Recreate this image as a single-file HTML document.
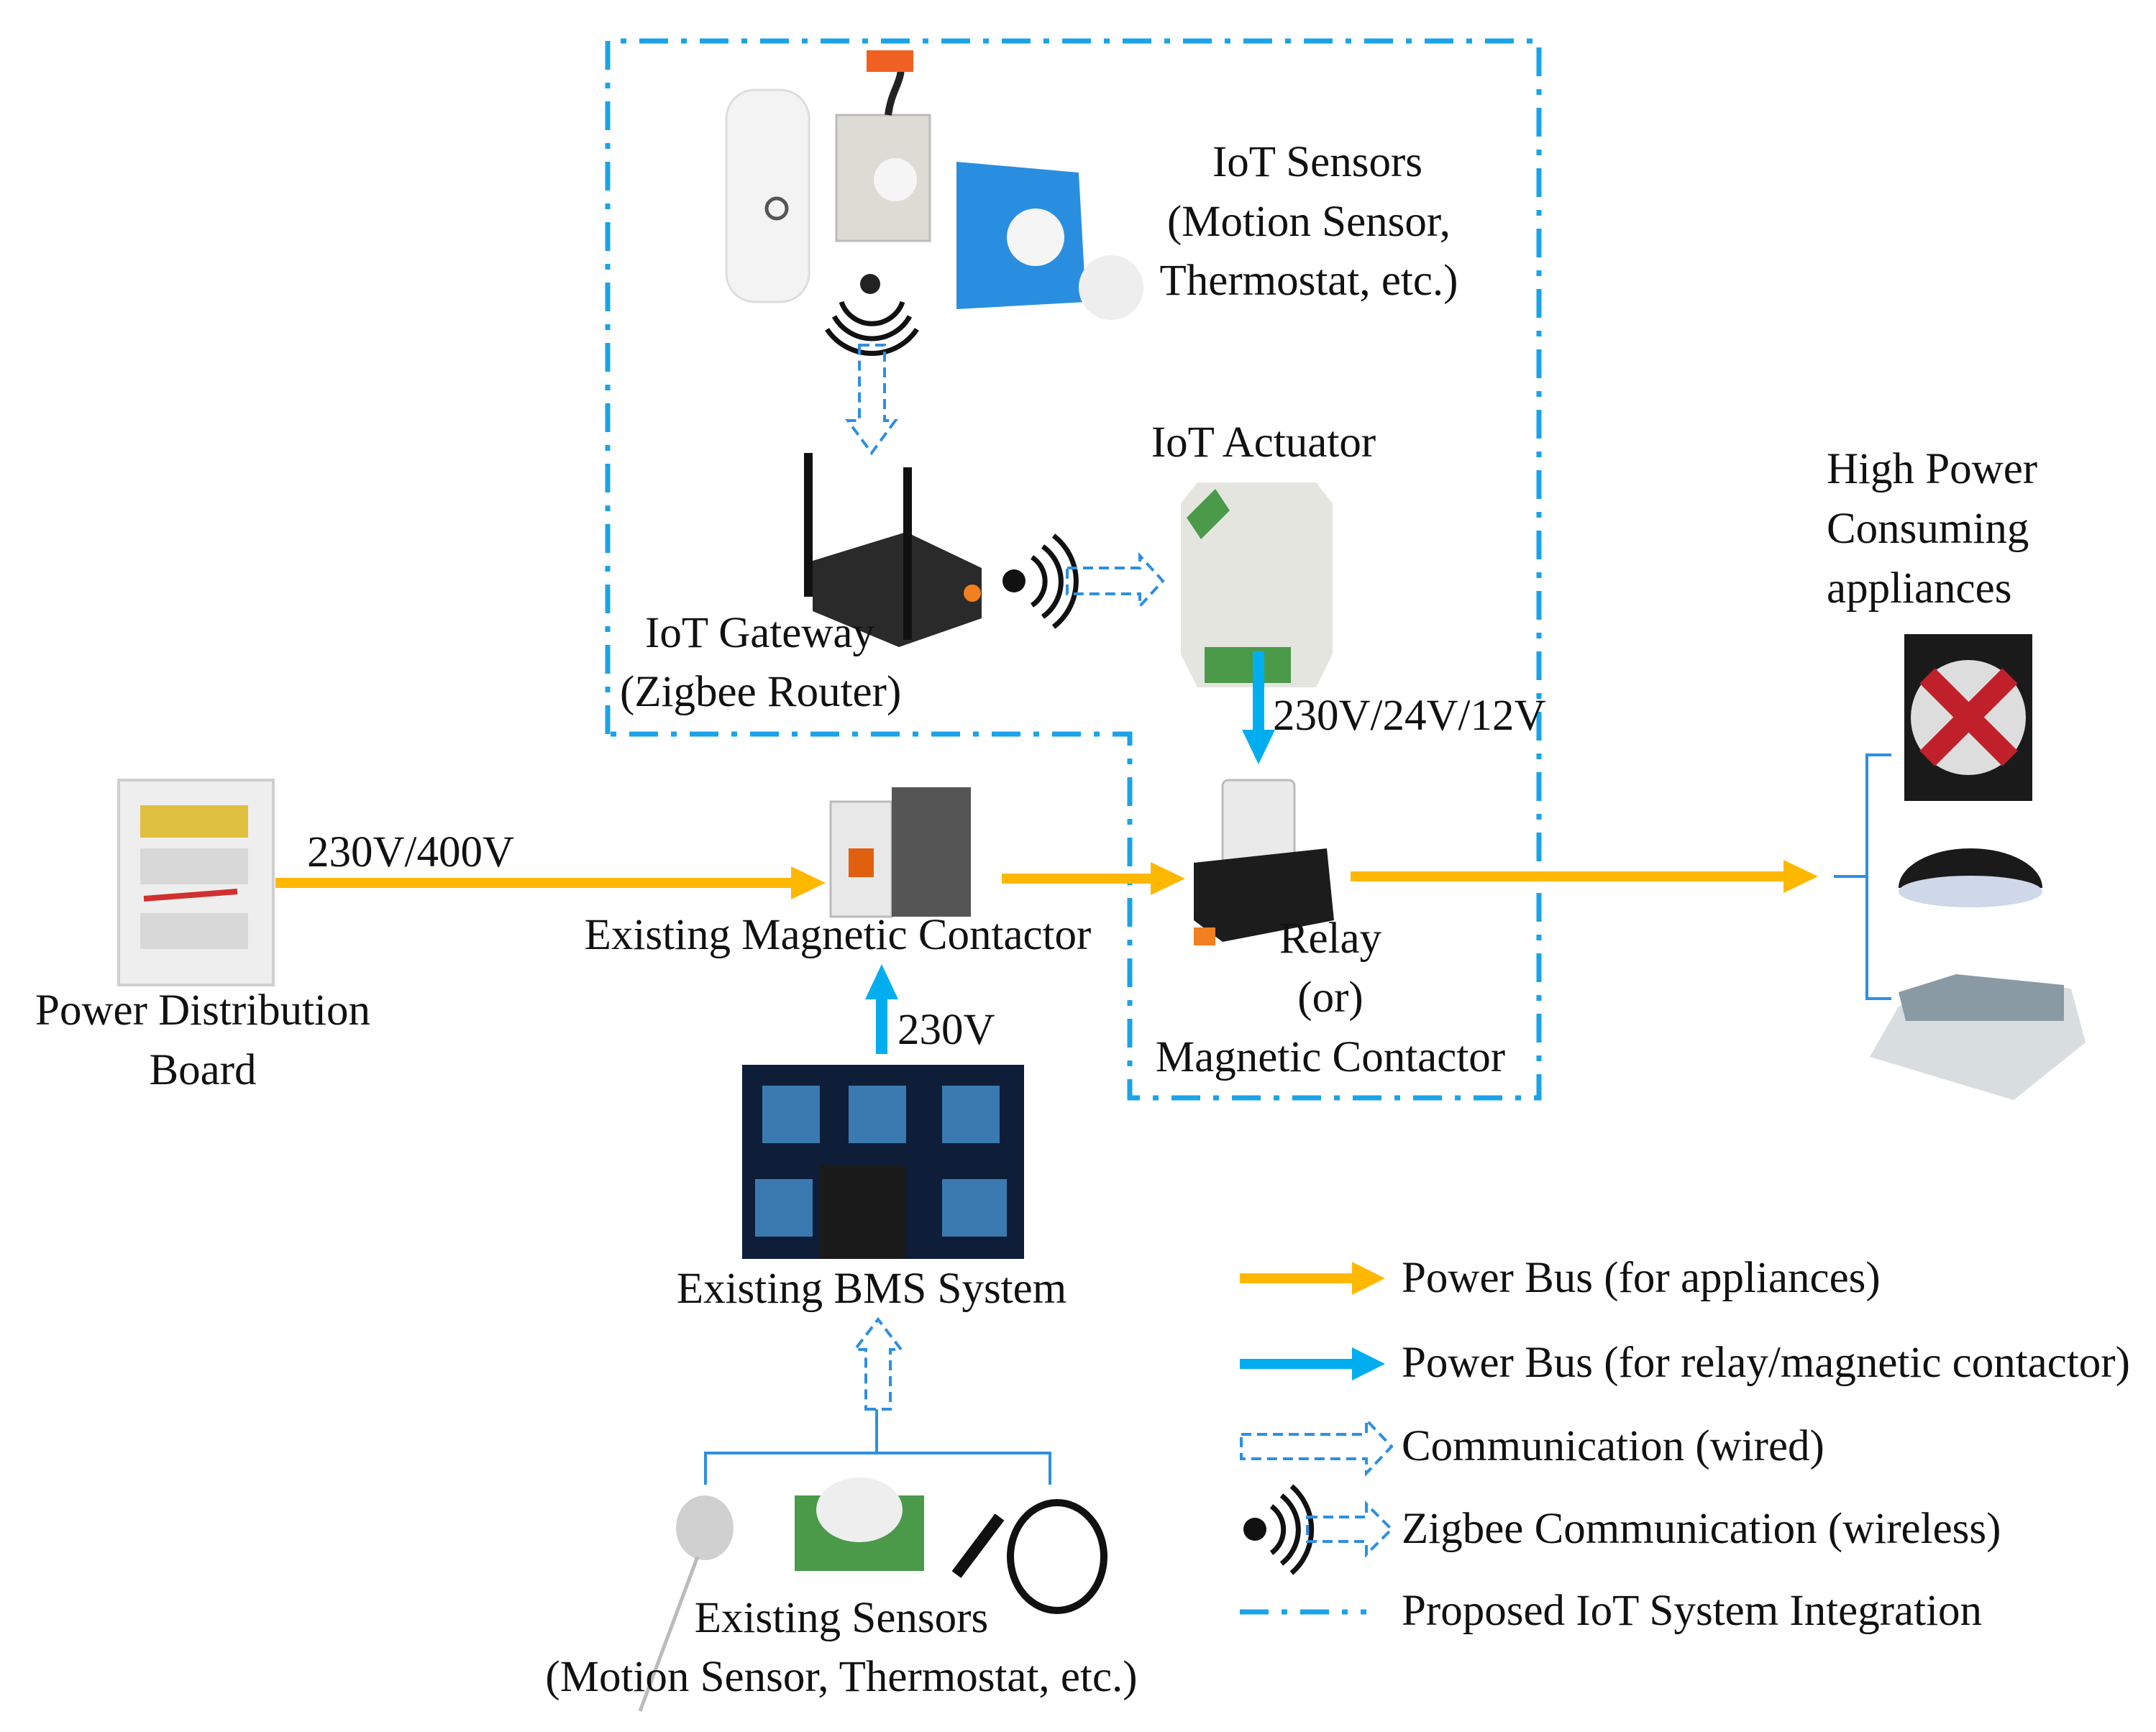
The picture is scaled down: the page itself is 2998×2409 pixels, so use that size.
<!DOCTYPE html>
<html><head><meta charset="utf-8"><style>
html,body{margin:0;padding:0;background:#fff}
svg{display:block}
text{font-family:"Liberation Serif",serif;font-size:61px;fill:#111}
</style></head><body>
<svg width="2998" height="2409" viewBox="0 0 2998 2409" xmlns="http://www.w3.org/2000/svg">
<!-- dashed IoT boundary -->
<path d="M845,1021 L845,57 L2140,57 L2140,1527 L1571,1527 L1571,1021 Z" fill="none" stroke="#1AA3E8" stroke-width="7" stroke-dasharray="40,18,8,18"/>

<!-- IoT sensors images -->
<rect x="1010" y="125" width="115" height="295" rx="40" fill="#f3f3f3" stroke="#ddd" stroke-width="3"/>
<circle cx="1080" cy="290" r="14" fill="none" stroke="#555" stroke-width="5"/>
<rect x="1163" y="160" width="130" height="175" fill="#dcdcd4" stroke="#bbb" stroke-width="3"/>
<circle cx="1245" cy="250" r="30" fill="#f5f5f5"/>
<path d="M1235,160 C1240,120 1260,110 1250,80" stroke="#222" stroke-width="10" fill="none"/>
<rect x="1205" y="70" width="65" height="30" fill="#f06020"/>
<path d="M1330,225 L1500,240 L1510,420 L1330,430 Z" fill="#2a8ee0"/>
<circle cx="1440" cy="330" r="40" fill="#f5f5f5"/>
<circle cx="1545" cy="400" r="45" fill="#eee"/>
<circle cx="1210" cy="395" r="14" fill="#222"/>
<path d="M1170,420 A45,45 0 0 0 1255,420 M1160,440 A60,60 0 0 0 1265,440 M1150,458 A75,75 0 0 0 1275,458" stroke="#111" stroke-width="7" fill="none"/>
<text x="1832" y="245" text-anchor="middle">IoT Sensors</text>
<text x="1820" y="328" text-anchor="middle">(Motion Sensor,</text>
<text x="1820" y="410" text-anchor="middle">Thermostat, etc.)</text>

<!-- wired comm down arrow -->
<path d="M1195,480 L1230,480 L1230,585 L1245,585 L1212,630 L1179,585 L1195,585 Z" fill="none" stroke="#2E8FE0" stroke-width="4" stroke-dasharray="14,8"/>

<!-- Gateway -->
<path d="M1130,780 L1260,740 L1365,790 L1365,860 L1250,900 L1130,850 Z" fill="#2a2a2a"/>
<rect x="1118" y="630" width="12" height="200" fill="#111"/>
<rect x="1256" y="650" width="12" height="240" fill="#111"/>
<circle cx="1352" cy="825" r="12" fill="#f08020"/>
<text x="897" y="900">IoT Gateway</text>
<text x="862" y="982">(Zigbee Router)</text>
<circle cx="1410" cy="808" r="16" fill="#111"/>
<path d="M1435,775 A40,40 0 0 1 1435,842 M1450,760 A60,60 0 0 1 1450,858 M1465,745 A80,80 0 0 1 1465,872" stroke="#111" stroke-width="7" fill="none"/>
<path d="M1484,790 L1585,790 L1585,773 L1617,808 L1585,843 L1585,826 L1484,826 Z" fill="none" stroke="#2E8FE0" stroke-width="4" stroke-dasharray="14,8"/>

<!-- Actuator -->
<text x="1757" y="635" text-anchor="middle">IoT Actuator</text>
<path d="M1665,671 L1830,671 L1853,700 L1853,910 L1830,956 L1665,956 L1642,910 L1642,700 Z" fill="#e5e5e0"/>
<rect x="1675" y="900" width="120" height="50" fill="#4a9a4a"/>
<path d="M1650,720 L1690,680 L1710,710 L1670,750 Z" fill="#4a9a4a"/>

<line x1="1750" y1="906" x2="1750" y2="1020" stroke="#00AEEF" stroke-width="16"/>
<path d="M1727,1015 L1773,1015 L1750,1063 Z" fill="#00AEEF"/>
<text x="1770" y="1015">230V/24V/12V</text>

<!-- relay -->
<rect x="1700" y="1085" width="100" height="120" rx="8" fill="#eaeaea" stroke="#bbb" stroke-width="3"/>
<path d="M1660,1200 L1845,1180 L1855,1280 L1700,1310 L1660,1280 Z" fill="#1c1c1c"/>
<rect x="1660" y="1290" width="30" height="25" fill="#f08020"/>
<text x="1850" y="1325" text-anchor="middle">Relay</text>
<text x="1850" y="1407" text-anchor="middle">(or)</text>
<text x="1850" y="1490" text-anchor="middle">Magnetic Contactor</text>

<!-- power distribution board -->
<rect x="165" y="1085" width="215" height="285" fill="#eeeeee" stroke="#cfcfcf" stroke-width="4"/>
<rect x="195" y="1120" width="150" height="45" fill="#e0c040"/>
<rect x="195" y="1180" width="150" height="50" fill="#d8d8d8"/>
<rect x="195" y="1270" width="150" height="50" fill="#d8d8d8"/>
<path d="M200,1250 L330,1240" stroke="#d03030" stroke-width="8"/>
<text x="282" y="1425" text-anchor="middle">Power Distribution</text>
<text x="282" y="1508" text-anchor="middle">Board</text>

<line x1="383" y1="1228" x2="1120" y2="1228" stroke="#FFB800" stroke-width="14"/>
<path d="M1100,1205 L1148,1228 L1100,1251 Z" fill="#FFB800"/>
<text x="427" y="1205">230V/400V</text>

<rect x="1155" y="1115" width="85" height="160" fill="#e8e8e8" stroke="#bbb" stroke-width="3"/>
<rect x="1240" y="1095" width="110" height="180" fill="#555"/>
<rect x="1180" y="1180" width="35" height="40" fill="#e06010"/>
<text x="1165" y="1320" text-anchor="middle">Existing Magnetic Contactor</text>

<line x1="1393" y1="1222" x2="1625" y2="1222" stroke="#FFB800" stroke-width="14"/>
<path d="M1600,1199 L1648,1222 L1600,1245 Z" fill="#FFB800"/>

<line x1="1878" y1="1219" x2="2500" y2="1219" stroke="#FFB800" stroke-width="14"/>
<path d="M2480,1196 L2528,1219 L2480,1242 Z" fill="#FFB800"/>

<path d="M2630,1050 L2596,1050 L2596,1389 L2630,1389 M2596,1219 L2550,1219" stroke="#2E8FE0" stroke-width="4" fill="none"/>
<text x="2540" y="672">High Power</text>
<text x="2540" y="755">Consuming</text>
<text x="2540" y="838">appliances</text>
<rect x="2648" y="882" width="178" height="232" fill="#1a1a1a"/>
<circle cx="2737" cy="998" r="80" fill="#ddd"/>
<path d="M2680,940 L2795,1055 M2795,940 L2680,1055" stroke="#c0202a" stroke-width="30"/>
<path d="M2640,1235 A100,55 0 0 1 2840,1235 Z" fill="#1a1a1a"/>
<ellipse cx="2740" cy="1240" rx="100" ry="22" fill="#cfd8e8"/>
<path d="M2640,1400 L2720,1355 L2880,1375 L2900,1450 L2800,1530 L2600,1470 Z" fill="#d8dde0"/>
<path d="M2640,1380 L2720,1355 L2870,1370 L2870,1420 L2650,1420 Z" fill="#8a9aa4"/>

<line x1="1226" y1="1466" x2="1226" y2="1385" stroke="#00AEEF" stroke-width="16"/>
<path d="M1203,1390 L1249,1390 L1226,1341 Z" fill="#00AEEF"/>
<text x="1248" y="1452">230V</text>

<rect x="1032" y="1481" width="392" height="270" fill="#0e1e38"/>
<rect x="1060" y="1510" width="80" height="80" fill="#3a7ab0"/>
<rect x="1180" y="1510" width="80" height="80" fill="#3a7ab0"/>
<rect x="1310" y="1510" width="80" height="80" fill="#3a7ab0"/>
<rect x="1050" y="1640" width="80" height="80" fill="#3a7ab0"/>
<rect x="1310" y="1640" width="90" height="80" fill="#3a7ab0"/>
<rect x="1140" y="1620" width="120" height="131" fill="#1a1a1a"/>
<text x="1212" y="1812" text-anchor="middle">Existing BMS System</text>

<path d="M1204,1960 L1238,1960 L1238,1877 L1253,1877 L1221,1835 L1189,1877 L1204,1877 Z" fill="none" stroke="#2E8FE0" stroke-width="4" stroke-dasharray="14,8"/>

<path d="M981,2065 L981,2021 L1460,2021 L1460,2065 M1219,2021 L1219,1960" stroke="#2E8FE0" stroke-width="4" fill="none"/>
<ellipse cx="980" cy="2125" rx="40" ry="45" fill="#d0d0d0"/>
<line x1="970" y1="2165" x2="890" y2="2380" stroke="#bbb" stroke-width="5"/>
<rect x="1105" y="2080" width="180" height="105" fill="#4a9a4a"/>
<ellipse cx="1195" cy="2100" rx="60" ry="45" fill="#eee"/>
<ellipse cx="1470" cy="2165" rx="65" ry="75" fill="none" stroke="#111" stroke-width="10"/>
<line x1="1390" y1="2110" x2="1330" y2="2190" stroke="#111" stroke-width="16"/>
<text x="1170" y="2270" text-anchor="middle">Existing Sensors</text>
<text x="1170" y="2352" text-anchor="middle">(Motion Sensor, Thermostat, etc.)</text>

<line x1="1724" y1="1778" x2="1890" y2="1778" stroke="#FFB800" stroke-width="14"/>
<path d="M1880,1755 L1926,1778 L1880,1801 Z" fill="#FFB800"/>
<text x="1949" y="1797">Power Bus (for appliances)</text>
<line x1="1724" y1="1897" x2="1890" y2="1897" stroke="#00AEEF" stroke-width="14"/>
<path d="M1880,1874 L1926,1897 L1880,1920 Z" fill="#00AEEF"/>
<text x="1949" y="1915">Power Bus (for relay/magnetic contactor)</text>
<path d="M1726,1995 L1900,1995 L1900,1975 L1935,2012 L1900,2049 L1900,2029 L1726,2029 Z" fill="none" stroke="#2E8FE0" stroke-width="4" stroke-dasharray="14,8"/>
<text x="1949" y="2031">Communication (wired)</text>
<circle cx="1745" cy="2127" r="16" fill="#111"/>
<path d="M1768,2095 A40,40 0 0 1 1768,2160 M1782,2080 A60,60 0 0 1 1782,2175 M1796,2067 A80,80 0 0 1 1796,2188" stroke="#111" stroke-width="7" fill="none"/>
<path d="M1818,2110 L1900,2110 L1900,2092 L1935,2127 L1900,2162 L1900,2144 L1818,2144 Z" fill="none" stroke="#2E8FE0" stroke-width="4" stroke-dasharray="14,8"/>
<text x="1949" y="2146">Zigbee Communication (wireless)</text>
<line x1="1724" y1="2242" x2="1900" y2="2242" stroke="#1AA3E8" stroke-width="7" stroke-dasharray="40,18,8,18"/>
<text x="1949" y="2260">Proposed IoT System Integration</text>
</svg>
</body></html>
